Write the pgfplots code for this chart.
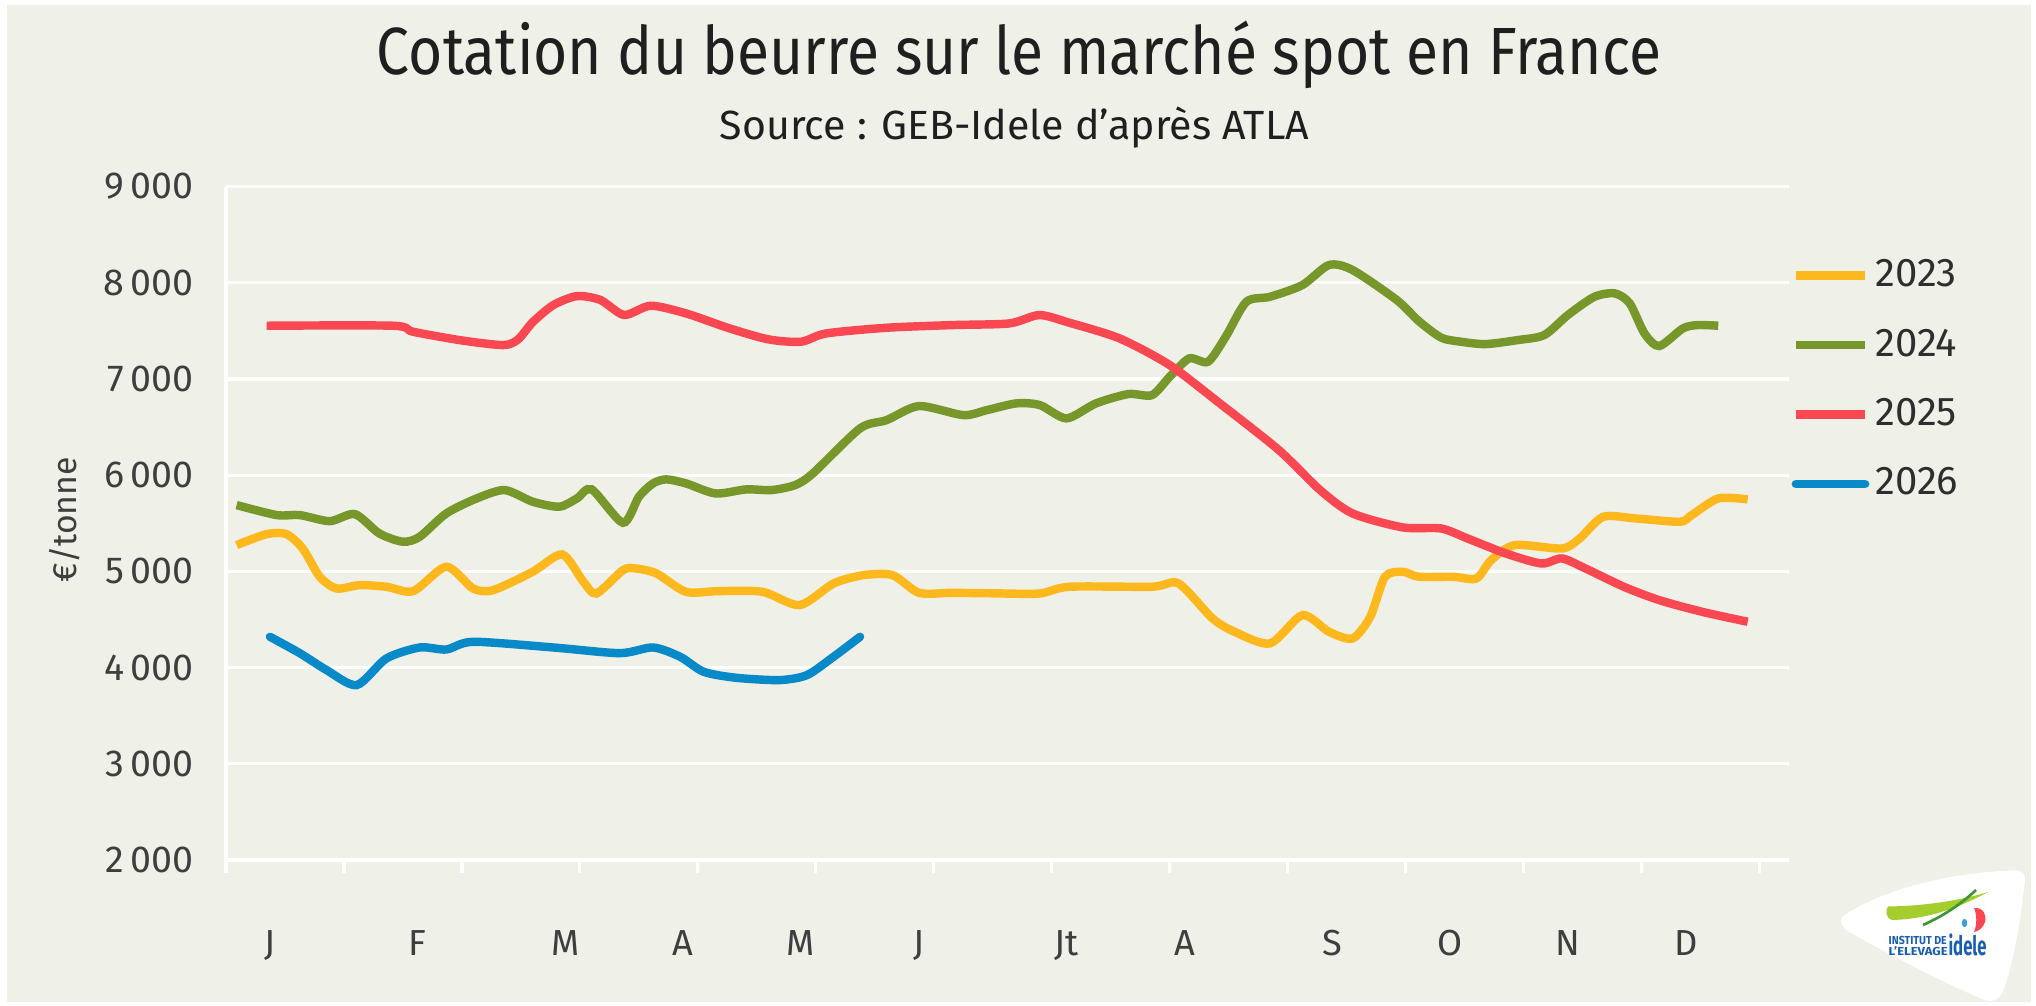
\documentclass[border=0pt]{standalone}
\usepackage{pgfplots}
\pgfplotsset{compat=1.18}
\usepackage{pgfplotstable}
\usepackage{graphicx}
\usepackage{fontspec}
\setmainfont{Fira Sans}
\definecolor{bg}{RGB}{239,240,232}
\definecolor{c23}{RGB}{253,184,30}
\definecolor{c24}{RGB}{119,151,43}
\definecolor{c25}{RGB}{250,72,82}
\definecolor{c26}{RGB}{8,138,200}
\definecolor{txt}{RGB}{62,62,62}
\definecolor{lime}{RGB}{165,205,45}
\definecolor{logoblue}{RGB}{25,95,175}
\definecolor{logogreen}{RGB}{60,150,50}

\pgfplotstableread{
w v
0.36 5273
1.38 5387
2.05 5387
2.6 5238
3.18 4944
3.75 4822
4.54 4857
5.44 4840
6.35 4795
7.47 5048
8.38 4822
9.06 4805
10.4 4996
11.4 5176
12.1 4900
12.56 4770
13.46 5013
13.9 5030
14.6 4978
15.6 4787
16.7 4795
18.2 4787
19.45 4649
20.6 4874
21.6 4960
22.6 4961
23.5 4777
24.6 4777
26.0 4772
27.58 4770
28.6 4840
31.4 4840
32.3 4874
33.45 4511
34.2 4372
35.4 4251
36.5 4545
37.4 4372
38.2 4303
38.8 4528
39.3 4944
39.9 4996
40.45 4944
41.6 4944
42.4 4926
42.9 5117
43.7 5273
45.3 5238
45.9 5342
46.7 5567
47.8 5550
49.3 5516
49.7 5585
50.6 5758
51.6 5748
}\tabA

\pgfplotstableread{
w v
0.36 5689
1.72 5585
2.5 5585
3.52 5522
4.37 5595
5.2 5394
6.0 5308
6.57 5360
7.47 5602
8.5 5758
9.45 5845
10.4 5724
11.3 5672
11.9 5758
12.4 5852
13.46 5505
14.0 5775
14.48 5914
14.93 5956
15.6 5914
16.6 5810
17.64 5852
18.5 5845
19.3 5897
19.9 6018
21.5 6486
22.4 6572
23.5 6718
25.0 6624
25.8 6676
26.8 6746
27.6 6728
28.5 6590
29.5 6746
30.6 6843
31.4 6832
32.0 7023
32.66 7213
33.3 7179
33.9 7439
34.6 7802
35.4 7854
36.5 7976
37.4 8184
38.2 8132
39.7 7820
40.45 7600
41.2 7430
41.8 7390
42.7 7362
43.8 7404
44.7 7456
45.5 7664
46.4 7854
47.1 7889
47.6 7785
48.1 7473
48.6 7342
49.4 7525
49.9 7560
50.6 7553
}\tabB

\pgfplotstableread{
w v
1.38 7553
5.67 7553
6.35 7490
8.0 7400
9.4 7352
9.9 7410
10.4 7590
11.1 7768
11.9 7861
12.7 7820
13.5 7665
14.4 7761
15.6 7681
17.08 7525
18.4 7411
19.5 7387
20.35 7473
22.4 7532
24.64 7560
26.56 7577
27.58 7664
28.6 7584
30.3 7421
32.0 7144
33.7 6746
35.7 6261
37.1 5845
38.2 5602
39.9 5457
41.2 5446
42.1 5342
43.4 5186
44.6 5082
45.3 5134
46.1 5030
47.4 4840
48.6 4701
50.05 4580
51.6 4476
}\tabC

\pgfplotstableread{
w v
1.49 4320
2.5 4150
3.41 3974
4.43 3818
5.44 4095
6.57 4209
7.47 4188
8.38 4268
11.1 4209
13.35 4150
14.48 4209
15.4 4112
16.2 3956
17.3 3894
18.77 3870
19.7 3922
20.6 4112
21.5 4320
}\tabD

\begin{document}
\begin{tikzpicture}
\useasboundingbox (0,0) rectangle (203.6mm,100.5mm);
\fill[white] (0,0) rectangle (203.6mm,100.5mm);
\fill[bg] (0.7mm,0.3mm) rectangle (203.1mm,100.0mm);
\node[anchor=base, inner sep=0pt, text=black!88] at (101.9mm,93.0mm)
  {\resizebox{128.4mm}{\height}{\fontsize{19}{22}\selectfont Cotation du beurre sur le marché spot en France}};
\node[anchor=base, inner sep=0pt, text=black!88] at (101.45mm,86.5mm)
  {\resizebox{58.9mm}{\height}{\fontsize{11.6}{14}\selectfont Source : GEB-Idele d'après ATLA}};

\begin{axis}[
  at={(22.6mm,14.5mm)}, anchor=south west,
  scale only axis, width=156.3mm, height=67.35mm,
  xmin=0, xmax=53, ymin=2000, ymax=9000,
  axis x line*=bottom, axis y line*=left,
  axis line style={white, line width=0.9pt},
  tick align=outside,
  major tick length=0pt,
  minor tick length=1.3mm,
  xtick={1.5,6.5,11.5,15.5,19.5,23.5,28.5,32.5,37.5,41.5,45.5,49.5},
  xticklabels={J,F,M,A,M,J,Jt,A,S,O,N,D},
  minor xtick={0,4,...,52},
  minor tick style={white, line width=0.9pt},
  xticklabel style={font=\fontsize{10.3}{12}\selectfont, text=txt, anchor=north, inner sep=0pt, yshift=-6.95mm},
  ytick={2000,3000,...,9000},
  yticklabels={2\,000,3\,000,4\,000,5\,000,6\,000,7\,000,8\,000,9\,000},
  yticklabel style={font=\fontsize{10.7}{12}\selectfont, text=txt, inner sep=0pt, xshift=-3.2mm},
  ymajorgrids, grid style={white, line width=0.9pt},
  ylabel={€/tonne},
  ylabel style={at={(axis description cs:-0.103,0.505)}, anchor=center, font=\fontsize{9.6}{12}\selectfont, text=txt},
  legend style={at={(1.0012,0.713)}, anchor=west, draw=none, fill=none,
    font=\fontsize{11.4}{12}\selectfont, text=black!82, row sep=2.5mm, inner sep=0pt,
    nodes={inner sep=0.6mm}},
  legend cell align=left,
  legend image code/.code={\draw[#1, line width=2.5pt] (0mm,0mm) -- (6.9mm,0mm);},
  every axis plot/.append style={line width=2.4pt, smooth, tension=0.45},
]
\addplot[c23] table[x=w,y=v] {\tabA};
\addlegendentry{2023}
\addplot[c24] table[x=w,y=v] {\tabB};
\addlegendentry{2024}
\addplot[c25] table[x=w,y=v] {\tabC};
\addlegendentry{2025}
\addplot[c26, line cap=round] table[x=w,y=v] {\tabD};
\addlegendentry{2026}
\end{axis}

% logo (decorative)
\fill[white] (184.3mm,8.9mm) .. controls (189mm,12.0mm) and (196mm,13.3mm) .. (201.4mm,13.45mm)
  .. controls (202.4mm,13.5mm) and (202.6mm,12.9mm) .. (202.45mm,12.2mm)
  .. controls (202mm,8mm) and (201.3mm,4mm) .. (200.3mm,1.4mm)
  .. controls (199.9mm,0.4mm) and (199.1mm,0.2mm) .. (198.2mm,0.6mm)
  .. controls (194mm,2.4mm) and (189mm,5mm) .. (184.9mm,7.3mm)
  .. controls (184.1mm,7.8mm) and (183.9mm,8.5mm) .. (184.3mm,8.9mm) -- cycle;
\fill[lime] (188.8mm,9.85mm) .. controls (192mm,9.9mm) and (195.5mm,10.3mm) .. (198.8mm,11.3mm)
  .. controls (196mm,9.8mm) and (193mm,8.6mm) .. (189.2mm,8.5mm)
  .. controls (188.6mm,8.6mm) and (188.5mm,9.5mm) .. (188.8mm,9.85mm) -- cycle;
\draw[logogreen, line width=0.75pt] (192.3mm,8.0mm) .. controls (194.3mm,8.9mm) and (196mm,10mm) .. (197.6mm,11.5mm);
\fill[c25] (197.4mm,9.7mm) .. controls (198.3mm,9.8mm) and (198.7mm,9.0mm) .. (198.5mm,8.3mm)
  .. controls (198.3mm,7.7mm) and (197.9mm,7.4mm) .. (197.4mm,7.3mm)
  .. controls (197.7mm,8.0mm) and (197.7mm,9.0mm) .. (197.4mm,9.7mm) -- cycle;
\fill[c26!80] (196.45mm,8.2mm) ellipse (0.27mm and 0.42mm);
\node[text=logoblue, inner sep=0pt] at (196.75mm,6.0mm)
  {\resizebox{3.8mm}{\height}{\fontsize{7.6}{8}\selectfont\bfseries idele}};
\node[text=logoblue, inner sep=0pt, anchor=west] at (188.8mm,6.5mm)
  {\resizebox{5.8mm}{\height}{\fontsize{3.3}{3.6}\selectfont\bfseries INSTITUT DE}};
\node[text=logoblue, inner sep=0pt, anchor=west] at (188.8mm,5.4mm)
  {\resizebox{5.9mm}{\height}{\fontsize{3.3}{3.6}\selectfont\bfseries L'ELEVAGE}};
\end{tikzpicture}
\end{document}
